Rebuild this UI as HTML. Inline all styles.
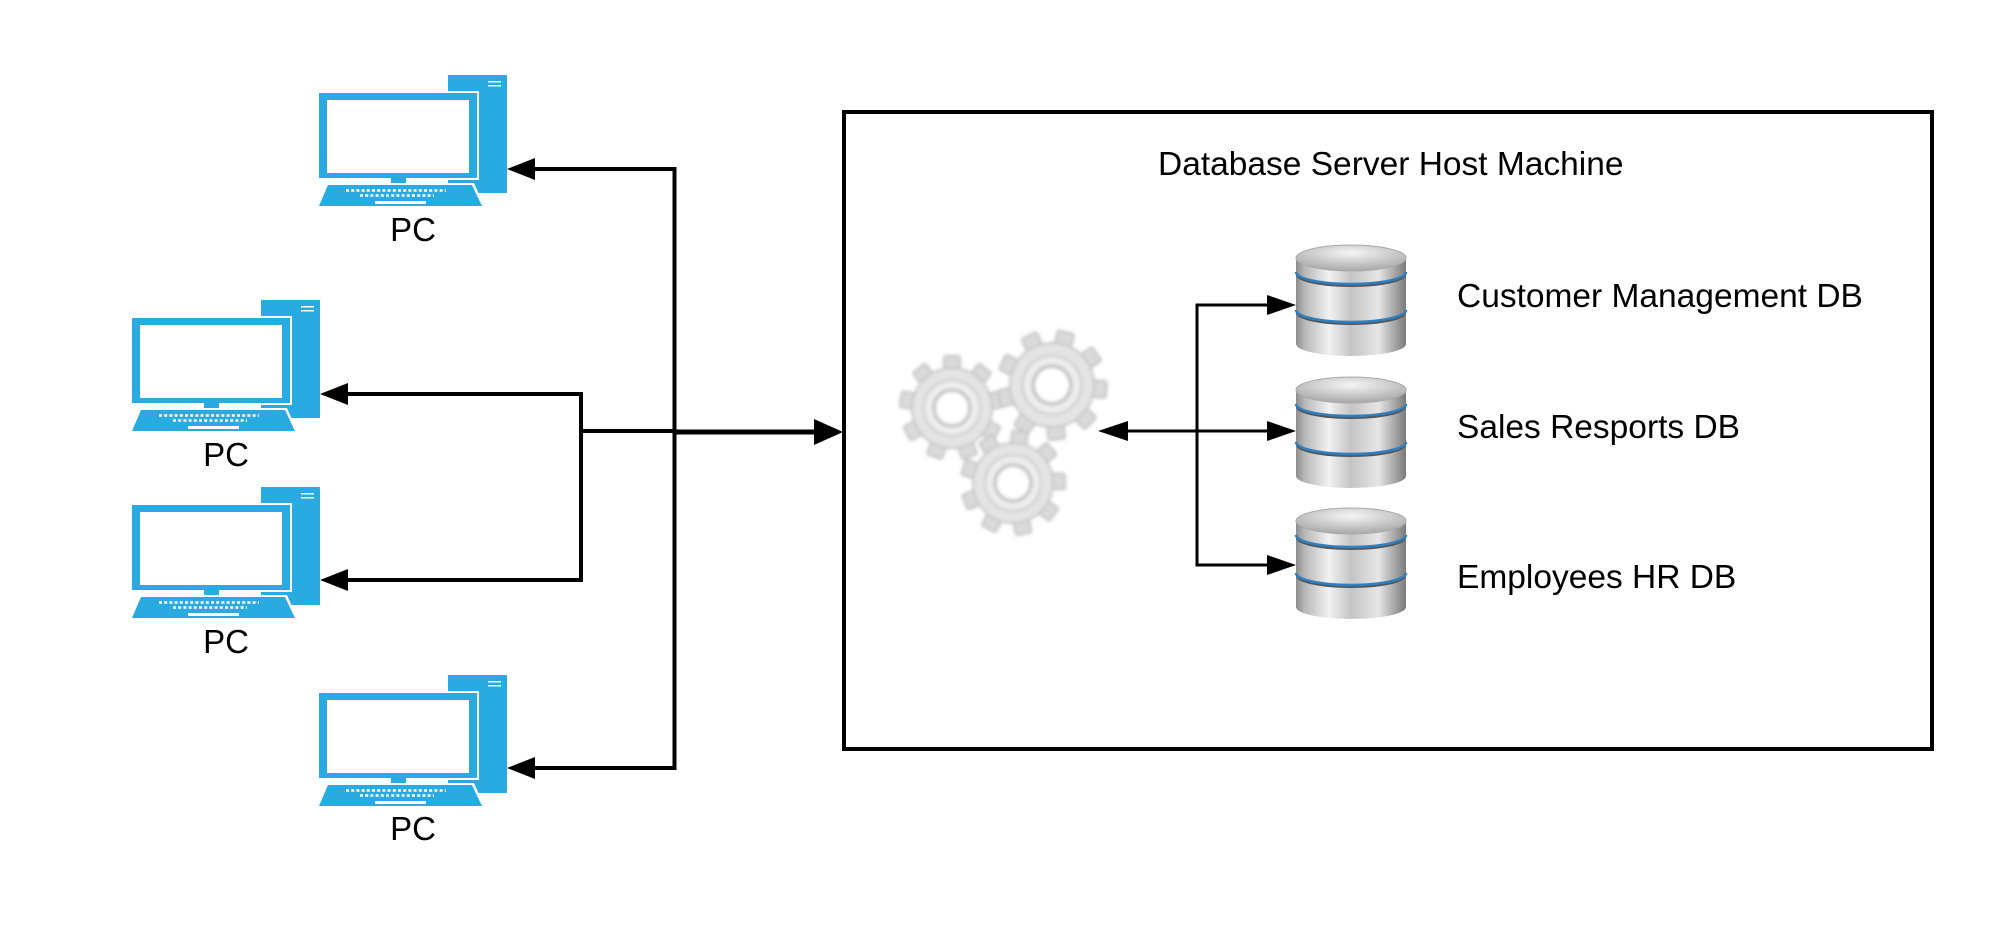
<!DOCTYPE html>
<html><head><meta charset="utf-8"><style>
html,body{margin:0;padding:0;background:#fff;}
svg{display:block;}
text{font-family:"Liberation Sans",sans-serif;fill:#000;}
</style></head><body>
<svg width="2006" height="938" viewBox="0 0 2006 938" xmlns="http://www.w3.org/2000/svg">
<defs>
  <g id="pc">
    <rect x="448" y="75" width="59" height="118" fill="#29abe2"/>
    <rect x="488" y="81" width="13" height="1.5" fill="#fff"/>
    <rect x="488" y="85" width="13" height="1.5" fill="#fff"/>
    <rect x="317" y="91" width="162" height="89" fill="#fff"/>
    <rect x="319" y="93" width="158" height="85" fill="#29abe2"/>
    <rect x="327" y="100" width="142" height="73" fill="#fff"/>
    <rect x="391" y="178" width="15" height="7" fill="#29abe2"/>
    <path d="M326,183 L474,183 L485,208 L316,208 Z" fill="#fff"/>
    <path d="M328,185 L472,185 L482,206 L319,206 Z" fill="#29abe2"/>
    <line x1="346" y1="190.5" x2="446" y2="190.5" stroke="#fff" stroke-width="2.5" stroke-dasharray="3 2.2"/>
    <line x1="360" y1="195.5" x2="434" y2="195.5" stroke="#fff" stroke-width="2.5" stroke-dasharray="3 2.2"/>
    <rect x="375" y="201" width="51" height="3" fill="#fff"/>
  </g>
  <linearGradient id="metal" x1="0" x2="1" y1="0" y2="0">
    <stop offset="0" stop-color="#8c8c8c"/>
    <stop offset="0.08" stop-color="#b8b8b8"/>
    <stop offset="0.3" stop-color="#f2f2f2"/>
    <stop offset="0.5" stop-color="#c4c4c4"/>
    <stop offset="0.75" stop-color="#e6e6e6"/>
    <stop offset="1" stop-color="#7a7a7a"/>
  </linearGradient>
  <radialGradient id="topg" cx="0.5" cy="0.3" r="0.7">
    <stop offset="0" stop-color="#f5f5f5"/>
    <stop offset="1" stop-color="#a8a8a8"/>
  </radialGradient>
  <g id="db">
    <path d="M0,66 L0,100 A55,12 0 0 0 110,100 L110,66 Z" fill="url(#metal)"/>
    <path d="M0,28 L0,69 A55,12 0 0 0 110,69 L110,28 Z" fill="#555"/>
    <path d="M0,28 L0,66 A55,12 0 0 0 110,66 L110,28 Z" fill="url(#metal)"/>
    <path d="M0,66 A55,12 0 0 0 110,66" fill="none" stroke="#2e7fc0" stroke-width="2.5"/>
    <path d="M0,14 L0,31 A55,12 0 0 0 110,31 L110,14 Z" fill="#555"/>
    <path d="M0,14 L0,28 A55,12 0 0 0 110,28 L110,14 Z" fill="url(#metal)"/>
    <path d="M0,28 A55,12 0 0 0 110,28" fill="none" stroke="#2e7fc0" stroke-width="2.5"/>
    <ellipse cx="55" cy="14" rx="55" ry="13" fill="url(#topg)" stroke="#aaa" stroke-width="1"/>
  </g>
  <filter id="soft" x="-20%" y="-20%" width="140%" height="140%"><feGaussianBlur stdDeviation="1.5"/></filter>
  <g id="gear">
    <g fill="#dadada" stroke="#c6c6c6" stroke-width="2" stroke-linejoin="round">
      <rect x="-8" y="-52" width="16" height="16" rx="2"/>
      <rect x="-8" y="-52" width="16" height="16" rx="2" transform="rotate(40)"/>
      <rect x="-8" y="-52" width="16" height="16" rx="2" transform="rotate(80)"/>
      <rect x="-8" y="-52" width="16" height="16" rx="2" transform="rotate(120)"/>
      <rect x="-8" y="-52" width="16" height="16" rx="2" transform="rotate(160)"/>
      <rect x="-8" y="-52" width="16" height="16" rx="2" transform="rotate(200)"/>
      <rect x="-8" y="-52" width="16" height="16" rx="2" transform="rotate(240)"/>
      <rect x="-8" y="-52" width="16" height="16" rx="2" transform="rotate(280)"/>
      <rect x="-8" y="-52" width="16" height="16" rx="2" transform="rotate(320)"/>
      <circle r="40"/>
    </g>
    <circle r="39" fill="#e4e4e4"/>
    <circle r="28" fill="#eeeeee" stroke="#d4d4d4" stroke-width="3"/>
    <circle r="18" fill="#fff" stroke="#c8c8c8" stroke-width="4"/>
  </g>
</defs>

<!-- PCs -->
<use href="#pc"/>
<use href="#pc" transform="translate(-187,225)"/>
<use href="#pc" transform="translate(-187,412)"/>
<use href="#pc" transform="translate(0,600)"/>
<text x="413" y="241" font-size="33" text-anchor="middle">PC</text>
<text x="226" y="466" font-size="33" text-anchor="middle">PC</text>
<text x="226" y="653" font-size="33" text-anchor="middle">PC</text>
<text x="413" y="840" font-size="33" text-anchor="middle">PC</text>

<!-- connectors left -->
<g fill="none" stroke="#000" stroke-width="4">
  <polyline points="534,169 674.5,169 674.5,768 534,768"/>
  <polyline points="347,394 581,394 581,580 347,580"/>
  <line x1="581" y1="431" x2="676" y2="431"/>
</g>
<line x1="674" y1="432" x2="816" y2="432" stroke="#000" stroke-width="5"/>
<g fill="#000">
  <polygon points="507,169 535,158 535,180"/>
  <polygon points="320,394 348,383 348,405"/>
  <polygon points="320,580 348,569 348,591"/>
  <polygon points="507,768 535,757 535,779"/>
  <polygon points="843,432 814,419 814,445"/>
</g>

<!-- box -->
<rect x="844" y="112" width="1088" height="637" fill="none" stroke="#000" stroke-width="4"/>
<text x="1158" y="175" font-size="33.5">Database Server Host Machine</text>

<!-- gears -->
<g filter="url(#soft)">
  <use href="#gear" transform="translate(952,408)"/>
  <use href="#gear" transform="translate(1052,385) rotate(15) scale(1.05)"/>
  <use href="#gear" transform="translate(1013,483) rotate(8)"/>
</g>

<!-- DB connectors -->
<g fill="none" stroke="#000" stroke-width="3">
  <polyline points="1268,305 1197,305 1197,565 1268,565"/>
  <line x1="1126" y1="431" x2="1268" y2="431"/>
</g>
<g fill="#000">
  <polygon points="1296,305 1267,295 1267,315"/>
  <polygon points="1296,431 1267,421 1267,441"/>
  <polygon points="1296,565 1267,555 1267,575"/>
  <polygon points="1098,431 1128,421 1128,441"/>
</g>

<!-- DBs -->
<use href="#db" transform="translate(1296,244)"/>
<use href="#db" transform="translate(1296,376)"/>
<use href="#db" transform="translate(1296,507)"/>
<text x="1457" y="307" font-size="33.5">Customer Management DB</text>
<text x="1457" y="438" font-size="33.5">Sales Resports DB</text>
<text x="1457" y="588" font-size="33.5">Employees HR DB</text>
</svg>
</body></html>
